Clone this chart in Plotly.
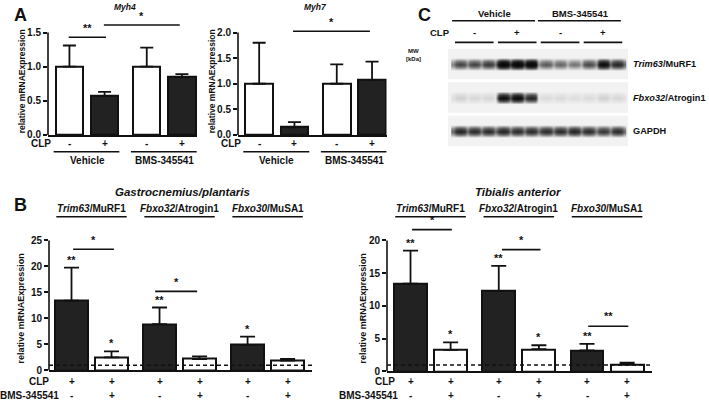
import plotly.graph_objects as go

W, H = 709, 407
FONT = "Liberation Sans"
BLACK = "#111111"
DARK = "#222222"

# ---------------- DATA ----------------
# Panel A
a_groups = ["Vehicle", "BMS-345541"]
a_clp = ["-", "+", "-", "+"]
myh4_vals = [1.0, 0.57, 1.0, 0.85]
myh4_err = [0.31, 0.06, 0.28, 0.04]
myh7_vals = [1.0, 0.15, 1.0, 1.07]
myh7_err = [0.80, 0.10, 0.38, 0.36]
a_fill = ["white", DARK, "white", DARK]

# Panel B
b_genes = ["<i>Trim63</i>/MuRF1", "<i>Fbxo32</i>/Atrogin1", "<i>Fbxo30</i>/MuSA1"]
b_clp = ["+", "+", "+", "+", "+", "+"]
b_bms = ["-", "+", "-", "+", "-", "+"]
gastro_vals = [13.4, 2.5, 8.9, 2.2, 4.9, 1.9]
gastro_err = [6.35, 1.15, 3.2, 0.5, 1.6, 0.3]
gastro_stars = ["**", "*", "**", "", "*", ""]
tib_vals = [13.4, 3.3, 12.3, 3.4, 3.2, 1.1]
tib_err = [5.05, 1.15, 3.8, 0.6, 1.0, 0.25]
tib_stars = ["**", "*", "**", "*", "**", ""]
b_fill = [DARK, "white", DARK, "white", DARK, "white"]

# Panel C (western blot band intensities, 12 lanes)
blot_groups = ["Vehicle", "BMS-345541"]
blot_clp = ["-", "+", "-", "+"]
murf1_int = [0.5, 0.5, 0.55, 1.0, 1.0, 1.0, 0.42, 0.38, 0.33, 0.48, 0.85, 0.65]
atrogin_int = [0.1, 0.08, 0.08, 0.8, 0.85, 0.65, 0.07, 0.07, 0.06, 0.07, 0.1, 0.08]
gapdh_int = [0.66, 0.62, 0.62, 0.66, 0.62, 0.62, 0.62, 0.62, 0.66, 0.62, 0.56, 0.62]
blot_mw = ["40-", "42-", "36-"]
blot_names = ["<i>Trim63</i>/MuRF1", "<i>Fbxo32</i>/Atrogin1", "GAPDH"]

# ---------------- LAYOUT HELPERS ----------------
def PX(x):
    return x / W

def PY(y):
    return 1 - y / H

fig = go.Figure()
shapes = []
annots = []

def txt(x, y, text, size=9.5, xref="paper", yref="paper", xanchor="center",
        yanchor="middle", angle=0, italic=False, color=BLACK):
    annots.append(dict(x=x, y=y, xref=xref, yref=yref, text=text, showarrow=False,
                       xanchor=xanchor, yanchor=yanchor, textangle=angle,
                       font=dict(family=FONT, size=size, color=color, weight="bold",
                                 style="italic" if italic else "normal")))

def hline(x0, x1, y, xref="paper", yref="paper", width=1.6, dash="solid", color=BLACK):
    shapes.append(dict(type="line", x0=x0, x1=x1, y0=y, y1=y, xref=xref, yref=yref,
                       line=dict(color=color, width=width, dash=dash)))

def panel(idx, xpx, ypx0, ypx_top, top_val, dom_top_px, pos, xr, tickvals, ticktext,
          vals, errs, fills, width, cap):
    xa = "x" if idx == 1 else f"x{idx}"
    ya = "y" if idx == 1 else f"y{idx}"
    rng_top = top_val * (ypx0 - dom_top_px) / (ypx0 - ypx_top)
    fig.add_trace(go.Bar(
        x=pos, y=vals, width=width, xaxis=xa, yaxis=ya,
        marker=dict(color=fills, line=dict(color=BLACK, width=2)),
        error_y=dict(type="data", symmetric=False, array=errs,
                     arrayminus=[0] * len(errs), color=BLACK, thickness=1.8, width=cap),
        showlegend=False, hoverinfo="skip"))
    lay = {}
    lay["xaxis" if idx == 1 else f"xaxis{idx}"] = dict(
        domain=[PX(xpx[0]), PX(xpx[1])], range=xr, showticklabels=False, ticks="",
        showgrid=False, zeroline=False, showline=True, linecolor=BLACK, linewidth=2,
        anchor=ya, fixedrange=True)
    lay["yaxis" if idx == 1 else f"yaxis{idx}"] = dict(
        domain=[PY(ypx0), PY(dom_top_px)], range=[0, rng_top], tickvals=tickvals,
        ticktext=ticktext, ticks="outside", ticklen=4, tickwidth=1.5, tickcolor=BLACK,
        showgrid=False, zeroline=False, showline=False, anchor=xa,
        tickfont=dict(family=FONT, size=10, color=BLACK, weight="bold"), fixedrange=True)
    fig.update_layout(**lay)
    # y spine up to top tick
    shapes.append(dict(type="line", xref=f"{xa} domain", yref=ya, x0=0, x1=0, y0=0,
                       y1=top_val, line=dict(color=BLACK, width=1.6)))
    return xa, ya

# ---------------- PANEL A ----------------
a_pos = [0, 1, 2.2, 3.2]
a_w = 0.78
xa1, ya1 = panel(1, (48, 197), 137, 33, 1.5, 10, a_pos, [-0.61, 3.63],
                 [0, 0.5, 1.0, 1.5], ["0.0", "0.5", "1.0", "1.5"],
                 myh4_vals, myh4_err, a_fill, a_w, 6.5)
xa2, ya2 = panel(2, (238, 386.5), 137, 33, 2.0, 10, a_pos, [-0.6, 3.61],
                 [0, 0.5, 1.0, 1.5, 2.0], ["0.0", "0.5", "1.0", "1.5", "2.0"],
                 myh7_vals, myh7_err, a_fill, a_w, 6.5)

for xa, ya, title, xc, ylab_x in [(xa1, ya1, "Myh4", 125, 22), (xa2, ya2, "Myh7", 315, 212)]:
    txt(PX(xc), PY(7), title, size=8.5, italic=True)
    txt(PX(ylab_x), PY(82.5), "relative mRNAExpression", size=8.5, angle=-90)
    txt(PX(ylab_x + 19), PY(146), "CLP", size=10)
    for p, s in zip(a_pos, a_clp):
        txt(p, PY(146), s, size=10, xref=xa)
    for g, (i0, i1) in zip(a_groups, [(0, 1), (2, 3)]):
        hline(a_pos[i0] - a_w / 2 - 0.06, a_pos[i1] + a_w / 2 + 0.03, PY(154), xref=xa)
        txt((a_pos[i0] + a_pos[i1]) / 2, PY(163), g, size=10, xref=xa)

# significance Myh4
hline(a_pos[0] - 0.02, a_pos[1] + 0.04, 1.43, xref=xa1, yref=ya1)
txt((a_pos[0] + a_pos[1]) / 2, 1.56, "**", size=11, xref=xa1, yref=ya1)
hline(a_pos[1] - 0.02, a_pos[3] - 0.06, 1.61, xref=xa1, yref=ya1)
txt((a_pos[1] + a_pos[3]) / 2 - 0.04, 1.74, "*", size=11, xref=xa1, yref=ya1)
# significance Myh7
hline(a_pos[1] - 0.04, a_pos[3] - 0.06, 2.025, xref=xa2, yref=ya2)
txt((a_pos[1] + a_pos[3]) / 2 - 0.05, 2.2, "*", size=11, xref=xa2, yref=ya2)

# ---------------- PANEL B ----------------
b_pos = [0, 1, 2.2, 3.2, 4.4, 5.4]
b_w = 0.82
xa3, ya3 = panel(3, (49, 312), 376, 244, 25, 236, b_pos, [-0.5625, 6.01],
                 [0, 5, 10, 15, 20, 25], ["0", "5", "10", "15", "20", "25"],
                 gastro_vals, gastro_err, b_fill, b_w, 7.5)
xa4, ya4 = panel(4, (387, 652), 377, 244, 20, 226, b_pos, [-0.586, 6.02],
                 [0, 5, 10, 15, 20], ["0", "5", "10", "15", "20"],
                 tib_vals, tib_err, b_fill, b_w, 7.5)

for xa, ya, title, xc, ylab_x, clp_x, bms_x, vals, errs, stars in [
        (xa3, ya3, "Gastrocnemius/plantaris", 182, 21, 39, 29, gastro_vals, gastro_err, gastro_stars),
        (xa4, ya4, "Tibialis anterior", 518, 363, 385, 368, tib_vals, tib_err, tib_stars)]:
    txt(PX(xc), PY(195), title, size=11.5, italic=True)
    txt(PX(ylab_x), PY(313), "relative mRNAExpression", size=9, angle=-90)
    txt(PX(clp_x), PY(387), "CLP", size=10)
    txt(PX(bms_x), PY(401), "BMS-345541", size=10)
    for k, g in enumerate(b_genes):
        c = (b_pos[2 * k] + b_pos[2 * k + 1]) / 2
        txt(c, PY(212), g, size=10, xref=xa)
        hline(c - 0.88, c + 0.88, PY(220), xref=xa)
    for p, s1, s2 in zip(b_pos, b_clp, b_bms):
        txt(p, PY(387), s1, size=10, xref=xa)
        txt(p, PY(401), s2, size=10, xref=xa)
    # dashed reference line at 1
    shapes.append(dict(type="line", xref=f"{xa} domain", yref=ya, x0=0, x1=1, y0=1, y1=1,
                       line=dict(color=BLACK, width=1.5, dash="4px,3px")))
    for p, v, e, s in zip(b_pos, vals, errs, stars):
        if s:
            txt(p, v + e, s, size=11, xref=xa, yref=ya, yanchor="bottom")

# gastro pair significance
hline(b_pos[0] + 0.04, b_pos[1] + 0.06, 23.3, xref=xa3, yref=ya3)
txt((b_pos[0] + b_pos[1]) / 2 + 0.05, 23.6, "*", size=11, xref=xa3, yref=ya3, yanchor="bottom")
hline(b_pos[2] - 0.11, b_pos[3] - 0.06, 15.2, xref=xa3, yref=ya3)
txt((b_pos[2] + b_pos[3]) / 2 - 0.08, 15.5, "*", size=11, xref=xa3, yref=ya3, yanchor="bottom")
# tibialis pair significance
hline(b_pos[0] + 0.04, b_pos[1] + 0.03, 21.65, xref=xa4, yref=ya4)
txt((b_pos[0] + b_pos[1]) / 2 + 0.04, 21.95, "*", size=11, xref=xa4, yref=ya4, yanchor="bottom")
hline(b_pos[2] + 0.08, b_pos[3] + 0.04, 18.6, xref=xa4, yref=ya4)
txt((b_pos[2] + b_pos[3]) / 2 + 0.06, 18.9, "*", size=11, xref=xa4, yref=ya4, yanchor="bottom")
hline(b_pos[4] + 0.03, b_pos[5] + 0.03, 6.9, xref=xa4, yref=ya4)
txt((b_pos[4] + b_pos[5]) / 2 + 0.03, 7.2, "**", size=11, xref=xa4, yref=ya4, yanchor="bottom")

# ---------------- PANEL C (blot) ----------------
band_centres = [17, 51, 85]          # blot-axis units (top = 0)
row_off = [-12, -6.5, -3, 0, 3, 6.5, 12]
row_w = [0.0, 0.0, 0.7, 1.0, 0.7, 0.0, 0.0]
col_off = [-0.5, -0.28, 0.0, 0.28]
col_w = [0.55, 0.9, 1.0, 0.9]
n_lanes = len(murf1_int)
xs = [i + o for i in range(n_lanes) for o in col_off] + [n_lanes - 0.5]
blot_scale = [[0, "#f2f2f2"], [0.1, "#d0d0d0"], [0.25, "#8c8c8c"],
              [0.45, "#4a4a4a"], [0.7, "#161616"], [1, "#050505"]]
for c, ints in zip(band_centres, [murf1_int, atrogin_int, gapdh_int]):
    z = []
    for w in row_w:
        row = []
        for i, v in enumerate(ints):
            for k, cw in enumerate(col_w):
                if k == 0 and i > 0:
                    row.append(w * cw * min(v, ints[i - 1]))
                else:
                    row.append(w * cw * v)
        row.append(w * col_w[0] * ints[-1])
        z.append(row)
    fig.add_trace(go.Heatmap(x=xs, y=[c + o for o in row_off], z=z, zmin=0, zmax=1,
                             colorscale=blot_scale, zsmooth="best", showscale=False,
                             xaxis="x5", yaxis="y5", hoverinfo="skip"))
    shapes.append(dict(type="rect", xref="x5 domain", yref="y5", x0=0, x1=1,
                       y0=c - 15.5, y1=c + 15.5, fillcolor="#f2f2f2", line=dict(width=0),
                       layer="below"))
fig.update_layout(
    xaxis5=dict(domain=[PX(448), PX(628)], range=[-0.84, 11.75], visible=False,
                anchor="y5", fixedrange=True),
    yaxis5=dict(domain=[PY(149), PY(48)], range=[101, 0], visible=False,
                anchor="x5", fixedrange=True))

blot_pair_centres = [1, 4, 7, 10]
for (i0, i1), g in zip([(0, 5), (6, 11)], blot_groups):
    hline(i0 - 0.55, i1 + 0.25, PY(21), xref="x5")
    txt((i0 + i1) / 2 - 0.1, PY(14), g, size=9.5, xref="x5")
txt(PX(440), PY(33), "CLP", size=9.5)
for k, s in enumerate(blot_clp):
    c = blot_pair_centres[k]
    txt(c, PY(33), s, size=9.5, xref="x5")
    hline(c - 1.35, c + 1.35, PY(43), xref="x5")

txt(PX(413), PY(52), "MW", size=6)
txt(PX(413), PY(60), "[kDa]", size=6)
for c, mw, name in zip(band_centres, blot_mw, blot_names):
    txt(-0.85, c, mw, size=9.5, xref="x5", yref="y5", xanchor="right")
    txt(PX(631), c, name, size=9.2, xref="paper", yref="y5", xanchor="left")

# panel letters
txt(PX(20), PY(15), "A", size=18)
txt(PX(20), PY(208), "B", size=18)
txt(PX(425), PY(15), "C", size=18)

fig.update_layout(width=W, height=H, margin=dict(l=0, r=0, t=0, b=0),
                  paper_bgcolor="white", plot_bgcolor="rgba(0,0,0,0)",
                  shapes=shapes, annotations=annots, bargap=0, showlegend=False)
fig.write_html("out.html", config={"displayModeBar": False},
               post_script="document.body.style.margin='0';document.body.style.padding='0';")
